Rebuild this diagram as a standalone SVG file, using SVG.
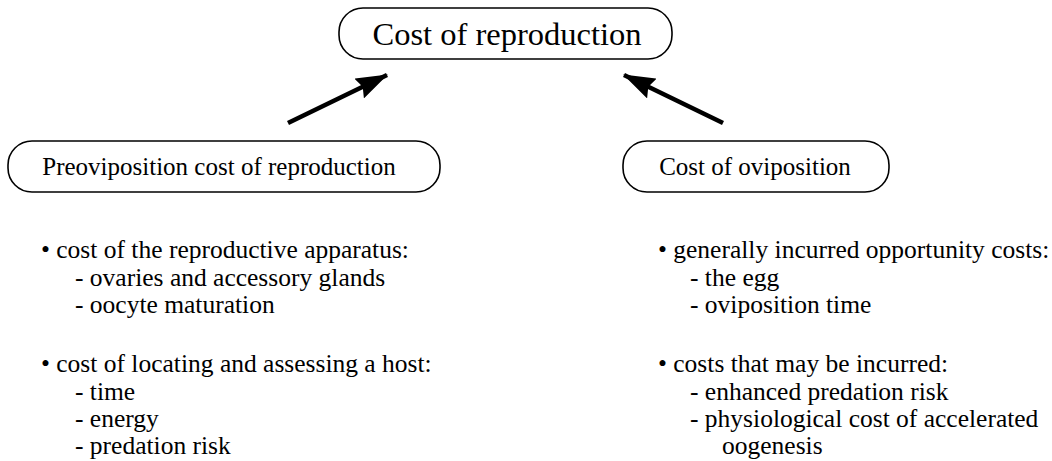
<svg xmlns="http://www.w3.org/2000/svg" width="1052" height="461" viewBox="0 0 1052 461">
<defs>
<style>
.box{fill:#fff;stroke:#000;stroke-width:1.6}
.t{font-family:"Liberation Serif","Times New Roman",serif;fill:#000}
.big{font-size:32.5px}
.mid{font-size:25px}
.body{font-size:25.5px}
.arr{stroke:#000;stroke-width:4.5;fill:none}
</style>
<marker id="ah" markerWidth="32" markerHeight="22" refX="31" refY="11" orient="auto" markerUnits="userSpaceOnUse" viewBox="0 0 32 22">
<path d="M0,0 L32,11 L0,22 L4,11 Z" fill="#000"/>
</marker>
</defs>
<g id="node-cost-reproduction">
<rect class="box" x="339" y="8" width="333" height="51" rx="24" ry="24"/>
<text class="t big" x="507" y="45" text-anchor="middle">Cost of reproduction</text>
</g>
<g id="node-preoviposition">
<rect class="box" x="8" y="141" width="432" height="51" rx="24" ry="24"/>
<text class="t mid" x="219" y="175" text-anchor="middle">Preoviposition cost of reproduction</text>
</g>
<g id="node-oviposition">
<rect class="box" x="623" y="141" width="266" height="51" rx="24" ry="24"/>
<text class="t mid" x="755" y="175" text-anchor="middle">Cost of oviposition</text>
</g>
<g id="connectors">
<line class="arr" x1="288" y1="123" x2="387" y2="75" marker-end="url(#ah)"/>
<line class="arr" x1="723" y1="123" x2="624" y2="75" marker-end="url(#ah)"/>
</g>
<g id="list-preoviposition" class="t body">
<text x="41" y="258">• cost of the reproductive apparatus:</text>
<text x="75" y="286">- ovaries and accessory glands</text>
<text x="75" y="313">- oocyte maturation</text>
<text x="41" y="372">• cost of locating and assessing a host:</text>
<text x="75" y="400">- time</text>
<text x="75" y="427">- energy</text>
<text x="75" y="454">- predation risk</text>
</g>
<g id="list-oviposition" class="t body">
<text x="658" y="258">• generally incurred opportunity costs:</text>
<text x="690" y="286">- the egg</text>
<text x="690" y="313">- oviposition time</text>
<text x="658" y="372">• costs that may be incurred:</text>
<text x="690" y="400">- enhanced predation risk</text>
<text x="690" y="427">- physiological cost of accelerated</text>
<text x="722" y="454">oogenesis</text>
</g>
</svg>
